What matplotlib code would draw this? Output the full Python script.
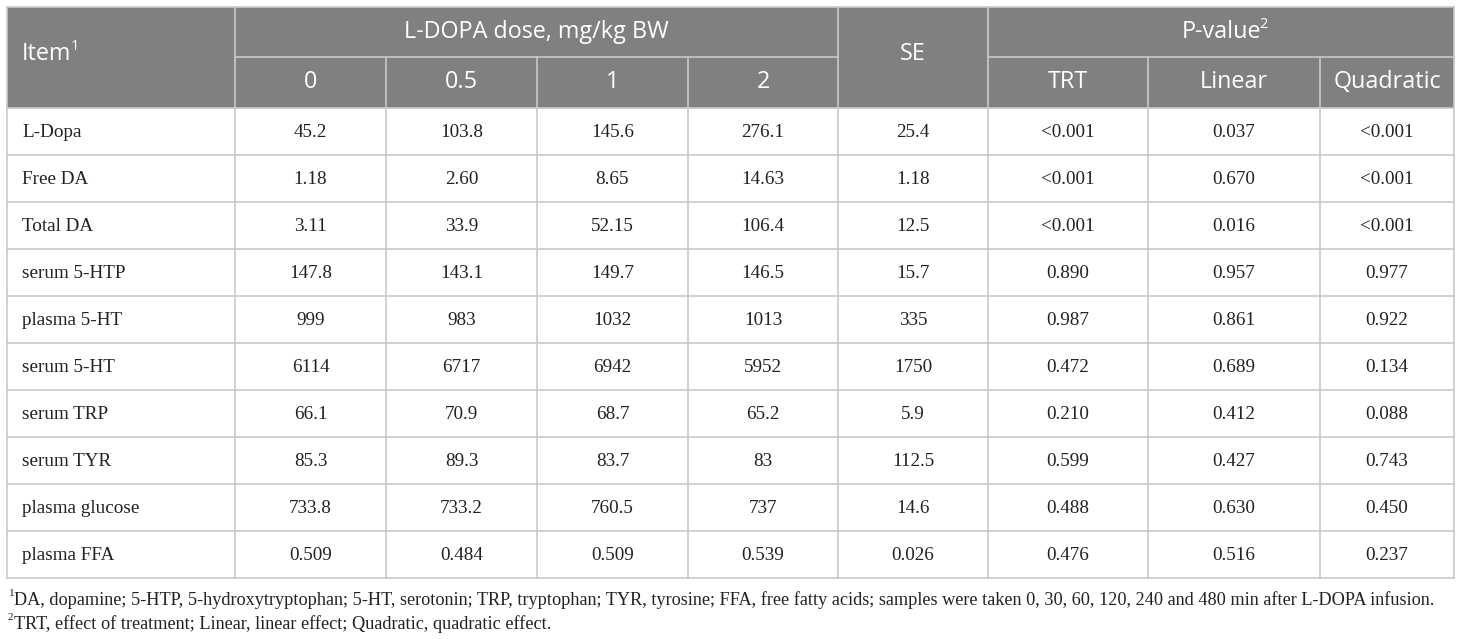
import matplotlib
matplotlib.use("Agg")
import matplotlib.pyplot as plt
from matplotlib.patches import Rectangle

# table content
items = ["L-Dopa", "Free DA", "Total DA", "serum 5-HTP", "plasma 5-HT",
         "serum 5-HT", "serum TRP", "serum TYR", "plasma glucose", "plasma FFA"]
dose_labels = ["0", "0.5", "1", "2"]
dose_0 = ["45.2", "1.18", "3.11", "147.8", "999", "6114", "66.1", "85.3", "733.8", "0.509"]
dose_05 = ["103.8", "2.60", "33.9", "143.1", "983", "6717", "70.9", "89.3", "733.2", "0.484"]
dose_1 = ["145.6", "8.65", "52.15", "149.7", "1032", "6942", "68.7", "83.7", "760.5", "0.509"]
dose_2 = ["276.1", "14.63", "106.4", "146.5", "1013", "5952", "65.2", "83", "737", "0.539"]
se = ["25.4", "1.18", "12.5", "15.7", "335", "1750", "5.9", "112.5", "14.6", "0.026"]
p_labels = ["TRT", "Linear", "Quadratic"]
p_trt = ["<0.001", "<0.001", "<0.001", "0.890", "0.987", "0.472", "0.210", "0.599", "0.488", "0.476"]
p_linear = ["0.037", "0.670", "0.016", "0.957", "0.861", "0.689", "0.412", "0.427", "0.630", "0.516"]
p_quad = ["<0.001", "<0.001", "<0.001", "0.977", "0.922", "0.134", "0.088", "0.743", "0.450", "0.237"]
footnote_1 = ("DA, dopamine; 5-HTP, 5-hydroxytryptophan; 5-HT, serotonin; TRP, tryptophan; "
              "TYR, tyrosine; FFA, free fatty acids; samples were taken 0, 30, 60, 120, 240 "
              "and 480 min after L-DOPA infusion.")
footnote_2 = "TRT, effect of treatment; Linear, linear effect; Quadratic, quadratic effect."

# layout in pixels
W, H = 1460, 639
col_x = [7, 235, 386, 537, 688, 838, 988, 1148, 1320, 1454]
top, mid, head_bot = 7, 57, 108
row_h = 47

HEAD_BG = "#808080"
GRID = "#c9c9c9"
TXT = "#222222"
SANS = "Open Sans"
SERIF = "Liberation Serif"
head_fs = 16.8
body_fs = 13.8
note_fs = 13.15

fig = plt.figure(figsize=(W / 100, H / 100), dpi=100)
ax = fig.add_axes([0, 0, 1, 1])
ax.set_xlim(0, W)
ax.set_ylim(H, 0)
ax.axis("off")

n_rows = len(items)
table_bot = head_bot + n_rows * row_h

# header background
ax.add_patch(Rectangle((col_x[0], top), col_x[-1] - col_x[0], head_bot - top,
                       facecolor=HEAD_BG, edgecolor="none"))

# grid lines
line_kw = dict(color=GRID, lw=1.2)
ax.plot([col_x[0], col_x[-1]], [top, top], **line_kw)
ax.plot([col_x[1], col_x[5]], [mid, mid], **line_kw)
ax.plot([col_x[6], col_x[-1]], [mid, mid], **line_kw)
for r in range(n_rows + 1):
    y = head_bot + r * row_h
    ax.plot([col_x[0], col_x[-1]], [y, y], **line_kw)
for i, x in enumerate(col_x):
    if i in (2, 3, 4, 7, 8):
        ax.plot([x, x], [mid, table_bot], **line_kw)
    else:
        ax.plot([x, x], [top, table_bot], **line_kw)


def add_sup(t, sup, fam, fs, color, dy):
    # small raised text right after text object t
    fig.canvas.draw()
    bb = t.get_window_extent()
    ax.annotate(sup, xy=(bb.x1 - 1, (bb.y0 + bb.y1) / 2 + dy), xycoords="figure pixels",
                ha="left", va="center", fontsize=fs, family=fam, color=color)


# header texts
it = ax.text(22, (top + head_bot) / 2 - 3, "Item", ha="left", va="center",
             fontsize=head_fs, family=SANS, color="white")
add_sup(it, "1", SANS, head_fs * 0.62, "white", 8)
ax.text((col_x[1] + col_x[5]) / 2, (top + mid) / 2, "L-DOPA dose, mg/kg BW",
        ha="center", va="center", fontsize=head_fs, family=SANS, color="white")
ax.text((col_x[5] + col_x[6]) / 2, (top + head_bot) / 2 - 3, "SE",
        ha="center", va="center", fontsize=head_fs, family=SANS, color="white")
pv = ax.text((col_x[6] + col_x[-1]) / 2, (top + mid) / 2, "P-value",
             ha="center", va="center", fontsize=head_fs, family=SANS, color="white")
add_sup(pv, "2", SANS, head_fs * 0.62, "white", 8)

for i, lab in enumerate(dose_labels):
    ax.text((col_x[1 + i] + col_x[2 + i]) / 2, (mid + head_bot) / 2, lab,
            ha="center", va="center", fontsize=head_fs, family=SANS, color="white")
for i, lab in enumerate(p_labels):
    ax.text((col_x[6 + i] + col_x[7 + i]) / 2, (mid + head_bot) / 2, lab,
            ha="center", va="center", fontsize=head_fs, family=SANS, color="white")

# body
columns = [dose_0, dose_05, dose_1, dose_2, se, p_trt, p_linear, p_quad]
for r, name in enumerate(items):
    yc = head_bot + r * row_h + row_h / 2 + 1
    ax.text(22, yc, name, ha="left", va="center", fontsize=body_fs, family=SERIF, color=TXT)
    for c, col in enumerate(columns):
        ax.text((col_x[1 + c] + col_x[2 + c]) / 2, yc, col[r], ha="center", va="center",
                fontsize=body_fs, family=SERIF, color=TXT)

# footnotes
for num, note, yc in [("1", footnote_1, 600), ("2", footnote_2, 624)]:
    s = ax.text(8, yc - 6, num, ha="left", va="center", fontsize=note_fs * 0.62,
                family=SERIF, color=TXT)
    fig.canvas.draw()
    sb = s.get_window_extent()
    ax.annotate(note, xy=(sb.x1 + 0.5, H - yc), xycoords="figure pixels",
                ha="left", va="center", fontsize=note_fs, family=SERIF, color=TXT)

fig.savefig("out.png", dpi=100, facecolor="white")
